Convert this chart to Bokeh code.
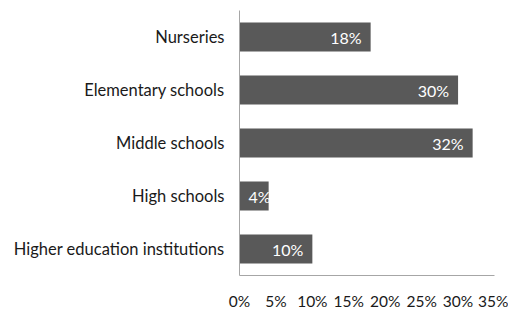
from bokeh.plotting import figure
from bokeh.models import FixedTicker, ColumnDataSource
from bokeh.core.properties import value
from bokeh.embed import file_html
from bokeh.resources import INLINE

categories = ["Nurseries", "Elementary schools", "Middle schools", "High schools",
              "Higher education institutions"]
values = [18, 30, 32, 4, 10]
tick_values = [0, 5, 10, 15, 20, 25, 30, 35]
tick_labels = ["0%", "5%", "10%", "15%", "20%", "25%", "30%", "35%"]

FONT = "Lato"
labels = [f"{v}%" for v in values]
offsets = [-9 if v >= 8 else 2 for v in values]
src = ColumnDataSource(dict(cat=categories, val=values, lab=labels, off=offsets))

p = figure(frame_width=255, frame_height=265, y_range=list(reversed(categories)), x_range=(0, 35),
           output_backend="svg", toolbar_location=None,
           min_border_left=239, min_border_right=14, min_border_top=10, min_border_bottom=20)
p.hbar(y="cat", right="val", left=0, height=0.55, source=src,
       fill_color="#595959", line_color=None)
p.text(x="val", y="cat", text="lab", source=src, x_offset="off",
       text_align="right", text_baseline="middle", text_color="white",
       text_font=value(FONT), text_font_size="16px")

p.outline_line_color = None
p.grid.grid_line_color = None

p.xaxis.ticker = FixedTicker(ticks=tick_values)
p.xaxis.major_label_overrides = {t: l for t, l in zip(tick_values, tick_labels)}
for ax in (p.xaxis[0], p.yaxis[0]):
    ax.axis_line_color = "#a6a6a6"
    ax.major_tick_line_color = None
    ax.minor_tick_line_color = None
    ax.major_label_text_font = FONT
    ax.major_label_text_color = "#1a1a1a"
p.yaxis.major_label_text_font_size = "16.5px"
p.xaxis.major_label_text_font_size = "15.5px"
p.xaxis.major_label_standoff = 10
p.yaxis.major_label_standoff = 9

open("out.html", "w").write(file_html(p, INLINE))
